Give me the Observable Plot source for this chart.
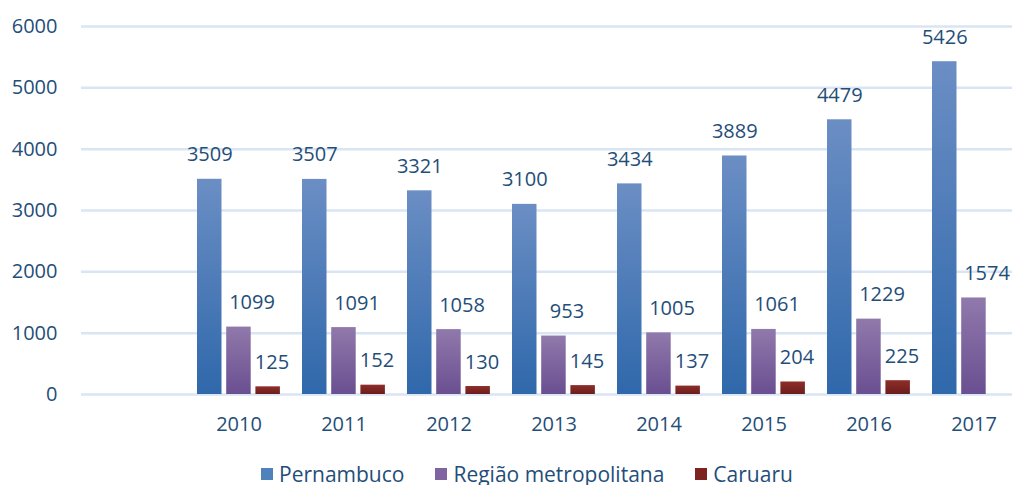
<!DOCTYPE html>
<html><head><meta charset="utf-8">
<script src="https://cdn.jsdelivr.net/npm/d3@7"></script>
<script src="https://cdn.jsdelivr.net/npm/@observablehq/plot@0.6"></script>
<style>
body{margin:0;background:#fff;overflow:hidden;font-family:"Open Sans",sans-serif;color:#1f4e79}
#legend{display:flex;align-items:center;padding-left:261px;height:22px;margin-top:1px;font-size:21px;line-height:22px;color:#1f4e79;white-space:nowrap}
#legend span.item{display:flex;align-items:center;margin-right:31px}
#legend i{display:inline-block;width:12px;height:12px;margin-right:6px}
</style></head><body>
<div id="chart"></div>
<div id="legend"></div>
<script>
const years = ["", "2010", "2011", "2012", "2013", "2014", "2015", "2016", "2017"];
const series = ["Pernambuco", "Região metropolitana", "Caruaru"];
const pernambuco = [3509, 3507, 3321, 3100, 3434, 3889, 4479, 5426];
const regiao = [1099, 1091, 1058, 953, 1005, 1061, 1229, 1574];
const caruaru = [125, 152, 130, 145, 137, 204, 225, null];
const yTicks = [0, 1000, 2000, 3000, 4000, 5000, 6000];

const colors = ["#4f81bd", "#8064a2", "#7d2421"];
const grads = [["gP", "#6b8ec4", "#2f68ab"], ["gR", "#9079ab", "#6a4f91"], ["gC", "#8e2e2a", "#6c1d1b"]];

const rows = years.slice(1).map((y, i) => ({year: y, p: pernambuco[i], r: regiao[i], c: caruaru[i]}));
const has = k => rows.filter(d => d[k] != null);

const txt = {fontSize: 20, fill: "#1f4e79", lineAnchor: "bottom", dy: -18};

const chart = Plot.plot({
  width: 1012,
  height: 462,
  marginLeft: 81,
  marginRight: 0,
  marginTop: 26,
  marginBottom: 68,
  style: {fontFamily: "'Open Sans', sans-serif", fontSize: "20px", color: "#1f4e79", background: "#fff", overflow: "hidden"},
  x: {domain: years, range: [81, 1026], padding: 0, tickSize: 0, tickPadding: 22, label: null},
  y: {domain: [0, 6000], range: [394, 26], ticks: yTicks, tickFormat: d => String(d), tickSize: 0, tickPadding: 24, label: null},
  marks: [
    Plot.ruleY(yTicks, {stroke: "#d9e5f3", strokeWidth: 2.5}),
    Plot.barY(has("p"), {x: "year", y: "p", fill: "url(#gP)", insetLeft: 11, insetRight: 69.5}),
    Plot.barY(has("r"), {x: "year", y: "r", fill: "url(#gR)", insetLeft: 40.2, insetRight: 40.3}),
    Plot.barY(has("c"), {x: "year", y: "c", fill: "url(#gC)", insetLeft: 69.4, insetRight: 11.1}),
    Plot.text(has("p"), {x: "year", y: "p", text: d => String(d.p), dx: -29.2, ...txt}),
    Plot.text(has("r"), {x: "year", y: "r", text: d => String(d.r), dx: 13, ...txt}),
    Plot.text(has("c"), {x: "year", y: "c", text: d => String(d.c), dx: 33, ...txt})
  ]
});
document.getElementById("chart").appendChild(chart);

const svg = d3.select(chart);
const defs = svg.insert("defs", ":first-child");
for (const [id, top, bottom] of grads) {
  const g = defs.append("linearGradient").attr("id", id).attr("x1", 0).attr("y1", 0).attr("x2", 0).attr("y2", 1);
  g.append("stop").attr("offset", "0%").attr("stop-color", top);
  g.append("stop").attr("offset", "100%").attr("stop-color", bottom);
}

const legend = d3.select("#legend");
series.forEach((s, i) => {
  const it = legend.append("span").attr("class", "item");
  it.append("i").style("background", colors[i]);
  it.append("span").text(s);
});
</script>
</body></html>
